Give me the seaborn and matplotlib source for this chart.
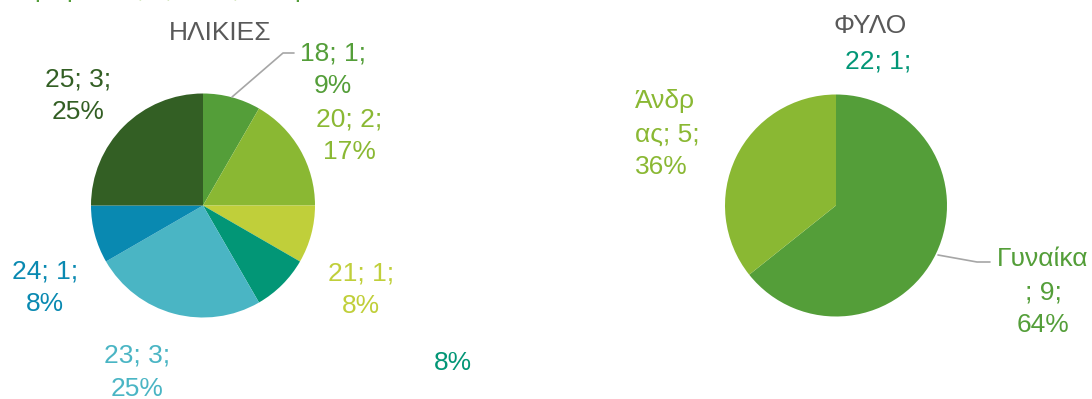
import matplotlib
matplotlib.use("Agg")
import matplotlib.pyplot as plt
import seaborn as sns

# data (Excel pies, Office "Green" theme)
age_labels = ["18", "20", "21", "22", "23", "24", "25"]
age_counts = [1, 2, 1, 1, 3, 1, 3]
age_pcts = ["9%", "17%", "8%", "8%", "25%", "8%", "25%"]
age_colors = ["#549E39", "#8AB833", "#C0CF3A", "#029676", "#4AB5C4", "#0989B1", "#335F24"]

sex_labels = ["Γυναίκα", "Άνδρας"]
sex_counts = [9, 5]
sex_pcts = ["64%", "36%"]
sex_colors = ["#549E39", "#8AB833"]

titles = ["ΗΛΙΚΙΕΣ", "ΦΥΛΟ"]

W, H = 1092, 399
FS = 19
LS = 1.48


def fy(y):
    # pixel row (from the top) -> data y
    return H - y


sns.set_theme(style="white")
plt.rcParams['font.family'] = ['Liberation Sans', 'DejaVu Sans']

fig = plt.figure(figsize=(W / 100, H / 100), dpi=100)
ax = fig.add_axes([0, 0, 1, 1])

ax.pie(age_counts, colors=age_colors, startangle=90, counterclock=False,
       center=(203, fy(205.5)), radius=112, wedgeprops=dict(linewidth=0))
ax.pie(sex_counts, colors=sex_colors, startangle=90, counterclock=False,
       center=(836, fy(205.5)), radius=111, wedgeprops=dict(linewidth=0))
ax.set_xlim(0, W)
ax.set_ylim(0, H)
ax.set_aspect('equal')
ax.axis('off')

# titles
ax.text(220, fy(21), titles[0], color="#595959", fontsize=FS, ha='center', va='top')
ax.text(870, fy(14), titles[1], color="#595959", fontsize=FS, ha='center', va='top')

# age labels: (x, top) of each label block
age_pos = [(333, 41), (349, 107), (361, 261), None, (137, 344), (45, 259), (78, 67)]
for lab, n, p, c, pos in zip(age_labels, age_counts, age_pcts, age_colors, age_pos):
    if pos is None:
        continue
    ax.text(pos[0], fy(pos[1]), f"{lab}; {n};\n{p}", color=c, fontsize=FS,
            ha='center', va='top', linespacing=LS)

# the 22 label got split in the original chart
ax.text(878, fy(49), f"{age_labels[3]}; {age_counts[3]};", color=age_colors[3],
        fontsize=FS, ha='center', va='top')
ax.text(453, fy(351), age_pcts[3], color=age_colors[3], fontsize=FS, ha='center', va='top')

# sex labels
w_lab = f"{sex_labels[0]}\n; {sex_counts[0]};\n{sex_pcts[0]}"
m_lab = f"{sex_labels[1][:4]}\n{sex_labels[1][4:]}; {sex_counts[1]};\n{sex_pcts[1]}"
ax.text(1043, fy(247), w_lab, color=sex_colors[0], fontsize=FS, ha='center',
        va='top', linespacing=LS, multialignment='center')
ax.text(635, fy(89), m_lab, color=sex_colors[1], fontsize=FS, ha='left',
        va='top', linespacing=LS, multialignment='left')

# leader lines
ax.plot([232, 283, 294], [fy(97), fy(53), fy(53)], color="#A6A6A6", lw=1.2)
ax.plot([938, 977, 990], [fy(255), fy(262), fy(262)], color="#A6A6A6", lw=1.2)

# bits of a label cut off at the top edge
for x, ch, c in [(34, "ρ", "#549E39"), (66, "ρ", "#549E39"), (140, ";", "#B5D48F"),
                 (168, ";", "#B5D48F"), (235, ";", "#B5D48F"), (294, "ρ", "#549E39")]:
    ax.text(x, fy(-3), ch, color=c, fontsize=FS, ha='left' if ch == "ρ" else 'center',
            va='baseline')

fig.savefig("out.png", dpi=100)
